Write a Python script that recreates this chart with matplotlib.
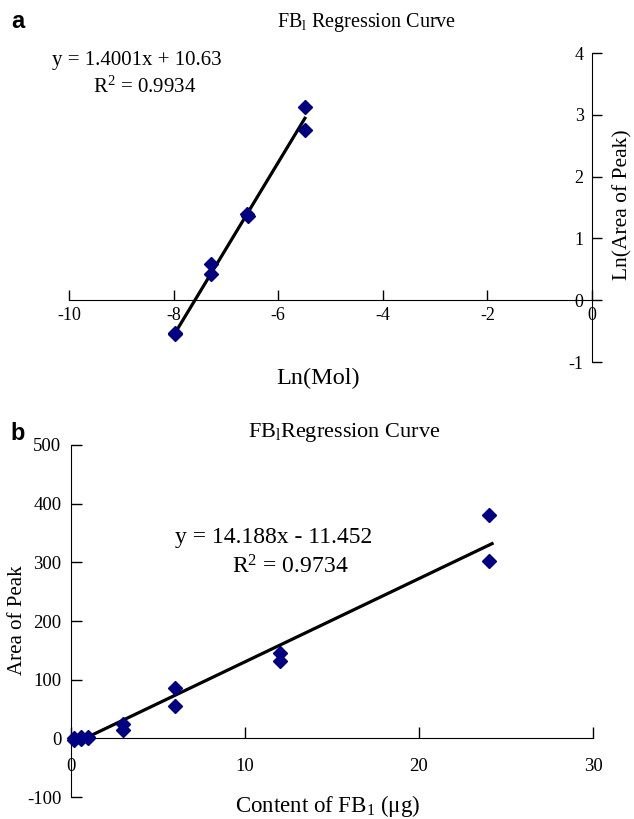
import numpy as np
import matplotlib
matplotlib.use("Agg")
from matplotlib import pyplot as plt

plt.rcParams['font.family'] = ['Liberation Serif', 'DejaVu Serif']
plt.rcParams['mathtext.fontset'] = 'custom'
plt.rcParams['mathtext.rm'] = 'Liberation Serif'
plt.rcParams['mathtext.it'] = 'Liberation Serif:italic'
plt.rcParams['axes.unicode_minus'] = False

# panel a: ln(mol) vs ln(area of peak)
ln_mol = [-7.98, -7.98, -7.29, -7.29, -6.59, -6.57, -5.49, -5.49]
ln_area = [-0.55, -0.53, 0.58, 0.43, 1.40, 1.37, 3.13, 2.76]
fit_a = (1.4001, 10.63)

# panel b: content (ug) vs area of peak
content = [0.15, 0.15, 0.55, 0.55, 0.95, 0.95, 3.0, 3.0, 6.0, 6.0, 12.0, 12.0, 24.0, 24.0]
area = [0, -2, 2, -1, 2, 0, 24, 15, 85, 55, 146, 132, 381, 303]
fit_b = (14.188, -11.452)

W, H = 634, 819
navy = '#000080'

def fx(px):
    return px / W

def fy(py):
    return 1 - py / H

fig = plt.figure(figsize=(6.34, 8.19), dpi=100)

#------------------------------------------------------------panel a
axa = fig.add_axes([fx(69), fy(362), fx(592) - fx(69), fy(53) - fy(362)])
axa.set_xlim(-10, 0)
axa.set_ylim(-1, 4)
axa.spines['top'].set_visible(False)
axa.spines['right'].set_visible(False)
axa.spines['bottom'].set_position(('data', 0))
axa.spines['left'].set_position(('data', 0))
axa.set_xticks([-10, -8, -6, -4, -2, 0])
axa.set_yticks([-1, 0, 1, 2, 3, 4])
axa.tick_params(axis='x', direction='in', length=7, width=1, pad=5, labelsize=13)
axa.tick_params(axis='y', direction='in', length=7, width=1, pad=6, labelsize=13)
xs = np.array([min(ln_mol), max(ln_mol)])
axa.plot(xs, fit_a[0] * xs + fit_a[1], color='black', lw=2.3, zorder=2)
axa.plot(ln_mol, ln_area, 'D', color=navy, ms=7, zorder=3)
axa.patch.set_alpha(0)

fig.text(fx(18), fy(22), 'a', family='Liberation Sans', weight='bold', fontsize=17,
         ha='center', va='center')
fig.text(fx(367), fy(23), r'FB$_\mathrm{l}$ Regression Curve', fontsize=14.5,
         ha='center', va='center')
fig.text(fx(137), fy(60), 'y = 1.4001x + 10.63', fontsize=15, ha='center', va='center')
fig.text(fx(145), fy(87), r'R$^2$ = 0.9934', fontsize=15, ha='center', va='center')
fig.text(fx(318), fy(378), 'Ln(Mol)', fontsize=17.5, ha='center', va='center')
fig.text(fx(623), fy(205), 'Ln(Area of Peak)', fontsize=15.5, rotation=90,
         ha='center', va='center')

#------------------------------------------------------------panel b
axb = fig.add_axes([fx(71), fy(797), fx(593) - fx(71), fy(445) - fy(797)])
axb.set_xlim(0, 30)
axb.set_ylim(-100, 500)
axb.spines['top'].set_visible(False)
axb.spines['right'].set_visible(False)
axb.spines['bottom'].set_position(('data', 0))
axb.set_xticks([0, 10, 20, 30])
axb.set_yticks([-100, 0, 100, 200, 300, 400, 500])
axb.tick_params(axis='x', direction='in', length=8, width=1, pad=14, labelsize=13.5)
axb.tick_params(axis='y', direction='in', length=8, width=1, pad=7, labelsize=13.5)
xs = np.array([0.3, max(content) + 0.2])
axb.plot(xs, fit_b[0] * xs + fit_b[1], color='black', lw=2.3, zorder=2)
axb.plot(content, area, 'D', color=navy, ms=7, zorder=3, clip_on=False)
axb.patch.set_alpha(0)

fig.text(fx(18), fy(433), 'b', family='Liberation Sans', weight='bold', fontsize=17,
         ha='center', va='center')
fig.text(fx(344), fy(433), r'FB$_\mathrm{l}$Regression Curve', fontsize=16,
         ha='center', va='center')
fig.text(fx(274), fy(537), 'y = 14.188x - 11.452', fontsize=17, ha='center', va='center')
fig.text(fx(290), fy(567), r'R$^2$ = 0.9734', fontsize=17, ha='center', va='center')
fig.text(fx(328), fy(806), r'Content of FB$_1$ (μg)', fontsize=16.5, ha='center', va='center')
fig.text(fx(18), fy(620), 'Area of Peak', fontsize=15, rotation=90,
         ha='center', va='center')

plt.savefig('out.png', dpi=100)
